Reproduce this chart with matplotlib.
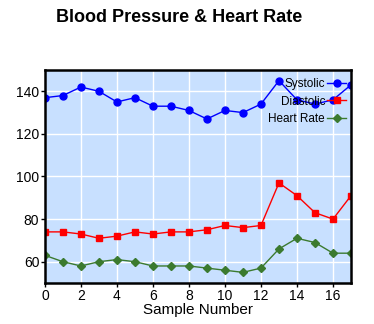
import matplotlib
matplotlib.use("Agg")
import matplotlib.pyplot as plt
import numpy as np
from matplotlib.legend_handler import HandlerLine2D

samples = list(range(18))
systolic = [137, 138, 142, 140, 135, 137, 133, 133, 131, 127, 131, 130, 134, 145, 136, 134, 136, 143]
diastolic = [74, 74, 73, 71, 72, 74, 73, 74, 74, 75, 77, 76, 77, 97, 91, 83, 80, 91]
heart_rate = [63, 60, 58, 60, 61, 60, 58, 58, 58, 57, 56, 55, 57, 66, 71, 69, 64, 64]
x_ticks = [0, 2, 4, 6, 8, 10, 12, 14, 16]
y_ticks = [60, 80, 100, 120, 140]

plt.rcParams['font.family'] = ['Liberation Sans', 'DejaVu Sans']


class RightMarkerHandler(HandlerLine2D):
    def get_xdata(self, legend, xdescent, ydescent, width, height, fontsize):
        xdata = np.array([-xdescent, -xdescent + width])
        xdata_marker = np.array([-xdescent + 0.72 * width])
        return xdata, xdata_marker


fig = plt.figure(figsize=(3.74, 3.24), dpi=100)
ax = fig.add_axes([0.120, 0.1265, 0.8185, 0.6575])
ax.set_facecolor('#C8E0FF')

l1, = ax.plot(samples, systolic, color='#0000FF', marker='o', markersize=5, lw=1, label='Systolic')
l2, = ax.plot(samples, diastolic, color='#FF0000', marker='s', markersize=5, lw=1, label='Diastolic')
l3, = ax.plot(samples, heart_rate, color='#3B7A2F', marker='D', markersize=4.5, lw=1, label='Heart Rate')

ax.set_xlim(0, 17)
ax.set_ylim(50, 150)
ax.set_xticks(x_ticks)
ax.set_yticks(y_ticks)
ax.grid(True, color='white', lw=1)
ax.set_axisbelow(True)
ax.tick_params(length=3, width=1, labelsize=10, pad=1)
for s in ax.spines.values():
    s.set_linewidth(1.8)
    s.set_color('black')
ax.set_xlabel('Sample Number', fontsize=11, labelpad=0.5)

h = RightMarkerHandler()
ax.legend(loc='upper right', bbox_to_anchor=(1.0, 0.985), frameon=False,
          markerfirst=False, fontsize=8.5, handlelength=1.6, labelspacing=0.48,
          borderaxespad=0.0, borderpad=0.4, handletextpad=0.2,
          handler_map={l1: h, l2: h, l3: h})

fig.text(0.48, 0.945, 'Blood Pressure & Heart Rate', ha='center', va='center',
         fontsize=13, fontweight='bold')

fig.savefig('out.png', dpi=100)
